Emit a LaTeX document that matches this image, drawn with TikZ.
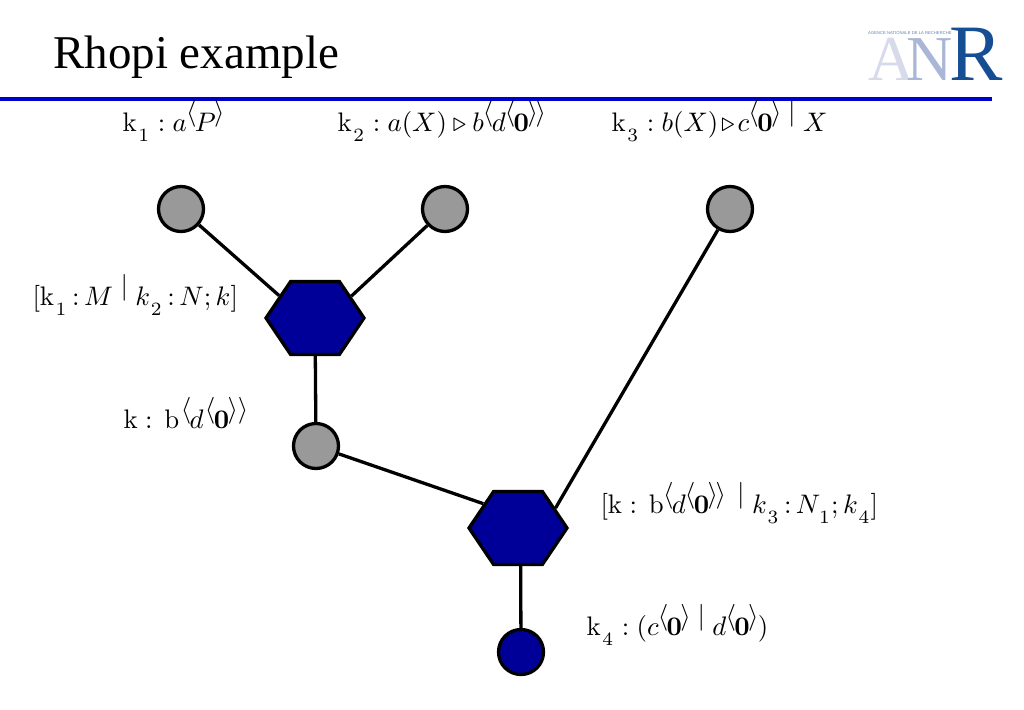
\documentclass[tikz,border=0pt]{standalone}
\usepackage{amsmath}
\usepackage[no-math]{fontspec}
\setmainfont{Liberation Serif}
\newfontfamily\logofont{Liberation Sans}
\usetikzlibrary{shapes.symbols}
\definecolor{ruleblue}{RGB}{0,0,204}
\definecolor{hexblue}{RGB}{0,0,153}
\definecolor{blobgray}{RGB}{153,153,153}
\definecolor{logoa}{RGB}{214,218,234}
\definecolor{logon}{RGB}{170,182,214}
\definecolor{logor}{RGB}{22,78,148}
\newcommand{\lng}{\kern-.3pt\raisebox{.4em}{$\langle$}\kern-.6pt}
\newcommand{\rng}{\kern-.6pt\raisebox{.4em}{$\rangle$}\kern-.3pt}
\newcommand{\bbar}{\;\raisebox{.4em}{$|$}\;}
\newcommand{\zero}{\mathbf{0}}
\newcommand{\cln}{\mkern-2mu:\mkern-2mu}
\newcommand{\trg}{\mkern-2mu\triangleright\mkern-2mu}
\newcommand{\sbs}[1]{_{\kern.6pt\raisebox{-.25em}{$\scriptstyle #1$}}}
\newcommand{\kay}[1]{\mathrm{k}\sbs{#1}}
\tikzset{
	x=1pt,
	y=-1pt,
	blob/.style={
		circle,
		draw,
		line width=3.3pt,
		fill=blobgray,
		minimum size=45pt,
		inner sep=0pt
	},
	hexa/.style={
		signal,
		signal to=east and west,
		signal pointer angle=112,
		draw,
		line width=3.3pt,
		fill=hexblue,
		minimum width=98pt,
		minimum height=73pt,
		inner sep=0pt
	},
	lab/.style={
		anchor=base west,
		inner sep=0pt,
		scale=2.68
	},
	link/.style={
		line width=3.3pt
	}
}
\begin{document}
\begin{tikzpicture}
	\useasboundingbox (0,0) rectangle (1024,709);
	\draw node[anchor=base west, inner sep=0pt, font=\fontsize{47}{50}\selectfont](Title) at (53,68){Rhopi example};
	\draw node[anchor=base west, inner sep=0pt, text=logoa, font=\fontsize{64}{64}\selectfont](LogoA) at (868,80){A};
	\draw node[anchor=base west, inner sep=0pt, text=logon, font=\fontsize{64}{64}\selectfont](LogoN) at (906,80){N};
	\draw node[anchor=base west, inner sep=0pt, text=logor, font=\fontsize{80}{80}\selectfont](LogoR) at (949,80){R};
	\draw node[anchor=base west, inner sep=0pt, text=logor!70, font=\logofont\fontsize{4.2}{5}\selectfont](LogoText) at (868,35){AGENCE NATIONALE DE LA RECHERCHE};
	\fill [ruleblue] (0,97) rectangle (992,101);

	\draw node[lab](LabOne) at (122,131){$\kay{1} : a\lng P\rng$};
	\draw node[lab](LabTwo) at (337,131){$\kay{2} : a(X) \triangleright b\lng d\lng\zero\rng\rng$};
	\draw node[lab](LabThree) at (611,131){$\kay{3} : b(X) \trg c\lng\zero\rng\bbar X$};
	\draw node[lab](LabJoin) at (32,305){$[\kay{1} \cln M\bbar k\sbs{2} \cln N; k]$};
	\draw node[lab](LabMsg) at (123,428){$\mathrm{k} :\,\mathrm{b}\mkern1.5mu\lng d\mkern1.5mu\lng\zero\rng\mkern1.5mu\rng$};
	\draw node[lab](LabJoinTwo) at (600,513){$[\mathrm{k} :\,\mathrm{b}\lng d\lng\zero\rng\rng\,\bbar k\sbs{3} \cln N\sbs{1}; k\sbs{4}]$};
	\draw node[lab](LabEnd) at (586,635){$\kay{4} : (c\lng\zero\rng\bbar d\lng\zero\rng)$};

	\draw node[blob](TopOne) at (181,209){};
	\draw node[blob](TopTwo) at (445,209){};
	\draw node[blob](TopThree) at (730,209){};
	\draw node[hexa](HexOne) at (315,318){};
	\draw node[blob](Mid) at (316,446){};
	\draw node[hexa](HexTwo) at (518,528){};
	\draw node[blob, fill=hexblue](End) at (521,652){};

	\draw [link] (TopOne) -- (HexOne.148);
	\draw [link] (TopTwo) -- (HexOne.31);
	\draw [link] (HexOne) -- (Mid);
	\draw [link] (Mid) -- (HexTwo.145);
	\draw [link] (TopThree) -- (HexTwo.28);
	\draw [link] (HexTwo.-86) -- (End);
\end{tikzpicture}
\end{document}
